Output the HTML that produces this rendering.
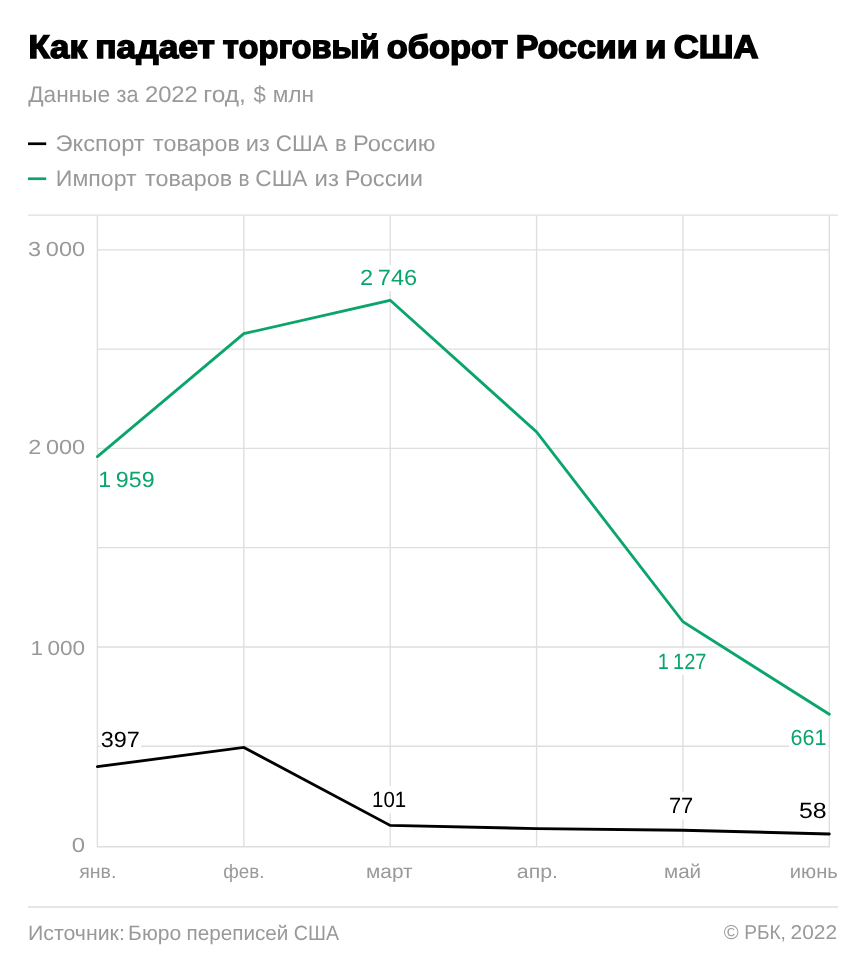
<!DOCTYPE html>
<html lang="ru">
<head>
<meta charset="utf-8">
<title>Как падает торговый оборот России и США</title>
<style>
html,body{margin:0;padding:0;background:#fff;}
body{width:866px;height:974px;overflow:hidden;}
svg{display:block;}
text{font-family:"Liberation Sans",sans-serif;text-rendering:geometricPrecision;}
</style>
</head>
<body>
<svg width="866" height="974" viewBox="0 0 866 974">
<g stroke="#dfdfdf" stroke-width="1.4" fill="none">
<line x1="97.4" y1="215" x2="97.4" y2="847.1"/>
<line x1="243.85" y1="215" x2="243.85" y2="847.1"/>
<line x1="390.2" y1="215" x2="390.2" y2="847.1"/>
<line x1="536.6" y1="215" x2="536.6" y2="847.1"/>
<line x1="682.95" y1="215" x2="682.95" y2="847.1"/>
<line x1="829.3" y1="215" x2="829.3" y2="847.1"/>
</g>
<g stroke="#dedede" stroke-width="1.35" fill="none">
<line x1="28" y1="215.15" x2="838" y2="215.15"/>
<line x1="97.4" y1="846.75" x2="830.0" y2="846.75"/>
<line x1="97.4" y1="746.23" x2="830.0" y2="746.23"/>
<line x1="97.4" y1="646.96" x2="830.0" y2="646.96"/>
<line x1="97.4" y1="547.69" x2="830.0" y2="547.69"/>
<line x1="97.4" y1="448.42" x2="830.0" y2="448.42"/>
<line x1="97.4" y1="349.15" x2="830.0" y2="349.15"/>
<line x1="97.4" y1="249.88" x2="830.0" y2="249.88"/>
<line x1="28" y1="907" x2="838" y2="907"/>
</g>
<g fill="#fff">
<rect x="100.3" y="731" width="40.7" height="24"/>
<rect x="359" y="265" width="59" height="26"/>
<rect x="657" y="648.6" width="51" height="26.2"/>
<rect x="789" y="727" width="39.2" height="24"/>
<rect x="371" y="786" width="37" height="27.4"/>
<rect x="668" y="791.6" width="27" height="27.8"/>
<rect x="798" y="799" width="30" height="24"/>
</g>
<polyline fill="none" stroke="#0ba56c" stroke-width="2.85" stroke-linejoin="miter" stroke-linecap="round" points="97.4,456.56 243.85,333.66 390.2,300.31 536.6,431.94 682.95,621.75 829.3,714.27"/>
<polyline fill="none" stroke="#000" stroke-width="2.85" stroke-linejoin="miter" stroke-linecap="round" points="97.4,766.68 243.85,747.42 390.2,825.45 536.6,828.62 682.95,830.21 829.3,833.98"/>
<rect x="28" y="142.4" width="18.2" height="2.7" fill="#000"/>
<rect x="28" y="177.4" width="18.2" height="2.7" fill="#0ba56c"/>
<text id="title" y="58" font-size="32.6" fill="#000" font-weight="bold" stroke="#000" stroke-width="1.5" stroke-linejoin="miter"><tspan x="28.41" textLength="58.48" lengthAdjust="spacingAndGlyphs">Как</tspan> <tspan x="95.26" textLength="119.50" lengthAdjust="spacingAndGlyphs">падает</tspan> <tspan x="222.89" textLength="156.75" lengthAdjust="spacingAndGlyphs">торговый</tspan> <tspan x="386.80" textLength="121.24" lengthAdjust="spacingAndGlyphs">оборот</tspan> <tspan x="515.75" textLength="121.93" lengthAdjust="spacingAndGlyphs">России</tspan> <tspan x="644.99" textLength="21.45" lengthAdjust="spacingAndGlyphs">и</tspan> <tspan x="673.66" textLength="84.70" lengthAdjust="spacingAndGlyphs">США</tspan></text>
<text id="sub" y="102" font-size="22.6" fill="#999999"><tspan x="28.20" textLength="81.90" lengthAdjust="spacingAndGlyphs">Данные</tspan> <tspan x="116.57" textLength="21.96" lengthAdjust="spacingAndGlyphs">за</tspan> <tspan x="144.93" textLength="52.89" lengthAdjust="spacingAndGlyphs">2022</tspan> <tspan x="203.34" textLength="42.59" lengthAdjust="spacingAndGlyphs">год,</tspan> <tspan x="253.44" textLength="12.31" lengthAdjust="spacingAndGlyphs">$</tspan> <tspan x="272.75" textLength="41.36" lengthAdjust="spacingAndGlyphs">млн</tspan></text>
<text id="leg1" y="151" font-size="22.5" fill="#999999"><tspan x="55.48" textLength="89.26" lengthAdjust="spacingAndGlyphs">Экспорт</tspan> <tspan x="153.04" textLength="86.77" lengthAdjust="spacingAndGlyphs">товаров</tspan> <tspan x="245.68" textLength="24.05" lengthAdjust="spacingAndGlyphs">из</tspan> <tspan x="275.84" textLength="52.03" lengthAdjust="spacingAndGlyphs">США</tspan> <tspan x="334.96" textLength="11.70" lengthAdjust="spacingAndGlyphs">в</tspan> <tspan x="352.99" textLength="82.42" lengthAdjust="spacingAndGlyphs">Россию</tspan></text>
<text id="leg2" y="186" font-size="22.5" fill="#999999"><tspan x="55.85" textLength="80.72" lengthAdjust="spacingAndGlyphs">Импорт</tspan> <tspan x="145.12" textLength="86.97" lengthAdjust="spacingAndGlyphs">товаров</tspan> <tspan x="238.38" textLength="11.07" lengthAdjust="spacingAndGlyphs">в</tspan> <tspan x="255.34" textLength="52.13" lengthAdjust="spacingAndGlyphs">США</tspan> <tspan x="314.62" textLength="24.46" lengthAdjust="spacingAndGlyphs">из</tspan> <tspan x="344.89" textLength="78.12" lengthAdjust="spacingAndGlyphs">России</tspan></text>
<text id="y3" x="28.08" y="256" font-size="20.4" fill="#999999" style="word-spacing:-1.6px" textLength="56.96" lengthAdjust="spacingAndGlyphs">3 000</text>
<text id="y2" x="28.34" y="454" font-size="20.4" fill="#999999" style="word-spacing:-1.6px" textLength="56.81" lengthAdjust="spacingAndGlyphs">2 000</text>
<text id="y1" x="30.45" y="655" font-size="20.4" fill="#999999" style="word-spacing:-1.6px" textLength="54.61" lengthAdjust="spacingAndGlyphs">1 000</text>
<text id="y0" x="71.86" y="852" font-size="20.4" fill="#999999" textLength="13.32" lengthAdjust="spacingAndGlyphs">0</text>
<text id="m1" x="79.20" y="878" font-size="19.5" fill="#999999" textLength="37.21" lengthAdjust="spacingAndGlyphs">янв.</text>
<text id="m2" x="223.16" y="878" font-size="19.5" fill="#999999" textLength="41.24" lengthAdjust="spacingAndGlyphs">фев.</text>
<text id="m3" x="366.05" y="878" font-size="19.5" fill="#999999" textLength="46.60" lengthAdjust="spacingAndGlyphs">март</text>
<text id="m4" x="516.81" y="878" font-size="19.5" fill="#999999" textLength="41.23" lengthAdjust="spacingAndGlyphs">апр.</text>
<text id="m5" x="663.98" y="878" font-size="19.5" fill="#999999" textLength="37.15" lengthAdjust="spacingAndGlyphs">май</text>
<text id="m6" x="789.85" y="878" font-size="19.5" fill="#999999" textLength="48.02" lengthAdjust="spacingAndGlyphs">июнь</text>
<text id="g1" x="98.15" y="487" font-size="22" fill="#0ba56c" style="word-spacing:-1.6px" textLength="56.46" lengthAdjust="spacingAndGlyphs">1 959</text>
<text id="g2" x="359.91" y="285" font-size="22" fill="#0ba56c" style="word-spacing:-1.6px" textLength="57.25" lengthAdjust="spacingAndGlyphs">2 746</text>
<text id="g3" x="657.77" y="669" font-size="22" fill="#0ba56c" style="word-spacing:-1.6px" textLength="48.63" lengthAdjust="spacingAndGlyphs">1 127</text>
<text id="g4" x="790.51" y="745" font-size="22" fill="#0ba56c" textLength="35.88" lengthAdjust="spacingAndGlyphs">661</text>
<text id="b1" x="100.82" y="747" font-size="22" fill="#000" textLength="39.08" lengthAdjust="spacingAndGlyphs">397</text>
<text id="b2" x="371.99" y="807" font-size="22" fill="#000" textLength="34.19" lengthAdjust="spacingAndGlyphs">101</text>
<text id="b3" x="668.97" y="813" font-size="22" fill="#000" textLength="24.31" lengthAdjust="spacingAndGlyphs">77</text>
<text id="b4" x="798.95" y="818" font-size="22" fill="#000" textLength="27.70" lengthAdjust="spacingAndGlyphs">58</text>
<text id="src" y="940" font-size="20.7" fill="#999999"><tspan x="28.00" textLength="96.84" lengthAdjust="spacingAndGlyphs">Источник:</tspan> <tspan x="128.06" textLength="53.09" lengthAdjust="spacingAndGlyphs">Бюро</tspan> <tspan x="186.48" textLength="101.90" lengthAdjust="spacingAndGlyphs">переписей</tspan> <tspan x="293.79" textLength="45.21" lengthAdjust="spacingAndGlyphs">США</tspan></text>
<text id="copy" y="939" font-size="19.9" fill="#999999"><tspan x="723.71" textLength="14.93" lengthAdjust="spacingAndGlyphs">©</tspan> <tspan x="744.18" textLength="41.74" lengthAdjust="spacingAndGlyphs">РБК,</tspan> <tspan x="790.51" textLength="46.51" lengthAdjust="spacingAndGlyphs">2022</tspan></text>
</svg>
</body>
</html>
